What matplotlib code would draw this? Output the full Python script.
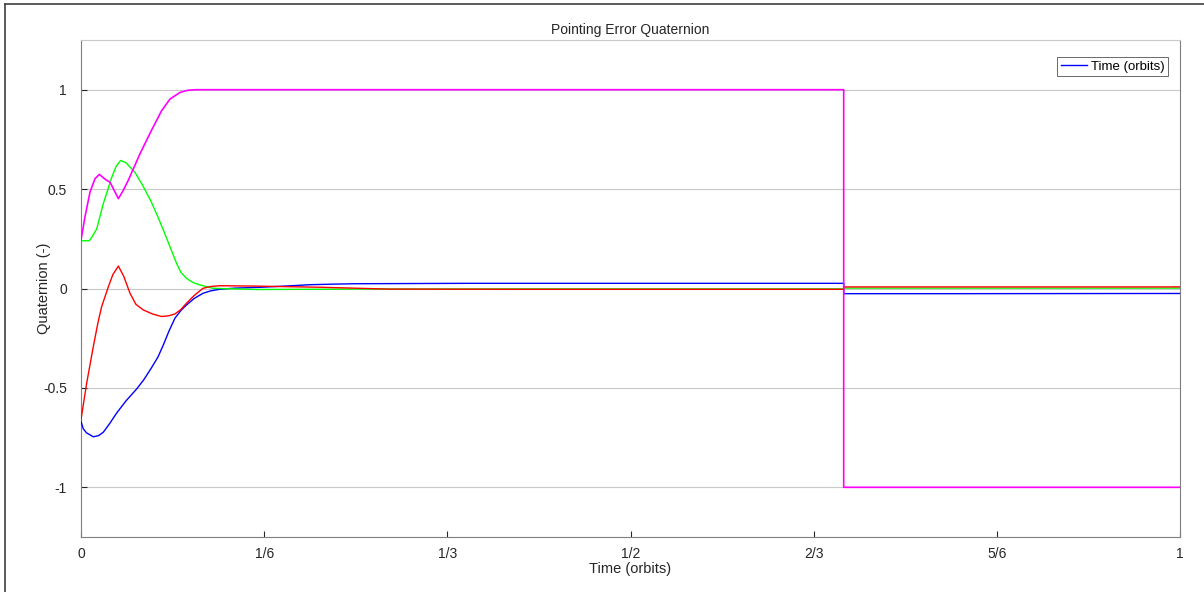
import numpy as np
import matplotlib
matplotlib.use("Agg")
import matplotlib.pyplot as plt
from matplotlib.lines import Line2D

plt.rcParams["font.family"] = ["Liberation Sans", "DejaVu Sans"]

# ---- data (time in orbits) ----
T_STEP = 0.694

q1_t = [0.0, 0.002, 0.005, 0.0112, 0.016, 0.0203, 0.026, 0.0325, 0.041, 0.0507, 0.057,
        0.064, 0.07, 0.075, 0.08, 0.0855, 0.091, 0.096, 0.103, 0.111, 0.118, 0.126,
        0.14, 0.163, 0.185, 0.208, 0.23, 0.25, 0.35, 0.5, T_STEP, T_STEP, 0.8, 1.0]
q1_v = [-0.668, -0.705, -0.726, -0.746, -0.74, -0.723, -0.68, -0.626, -0.565, -0.505, -0.46,
        -0.40, -0.345, -0.283, -0.215, -0.149, -0.11, -0.083, -0.05, -0.024, -0.012, -0.004,
        0.002, 0.006, 0.012, 0.019, 0.022, 0.024, 0.026, 0.026, 0.026, -0.026, -0.026, -0.025]

q2_t = [0.0, 0.0076, 0.0097, 0.0143, 0.0203, 0.028, 0.032, 0.036, 0.041, 0.049, 0.056,
        0.064, 0.07, 0.075, 0.081, 0.087, 0.091, 0.096, 0.102, 0.108, 0.12, 0.16, 0.25,
        0.4, T_STEP, T_STEP, 1.0]
q2_v = [0.24, 0.24, 0.257, 0.30, 0.427, 0.56, 0.615, 0.644, 0.632, 0.585, 0.52,
        0.435, 0.36, 0.293, 0.21, 0.126, 0.08, 0.051, 0.03, 0.018, 0.001, -0.005, -0.003,
        -0.002, -0.002, 0.002, 0.002]

q3_t = [0.0, 0.0052, 0.0112, 0.0155, 0.0188, 0.0249, 0.029, 0.034, 0.039, 0.0446, 0.05,
        0.0567, 0.065, 0.0734, 0.08, 0.0855, 0.091, 0.096, 0.103, 0.111, 0.118, 0.126,
        0.16, 0.22, 0.28, 0.4, T_STEP, T_STEP, 1.0]
q3_v = [-0.659, -0.475, -0.292, -0.17, -0.091, 0.009, 0.07, 0.113, 0.06, -0.024, -0.08,
        -0.108, -0.128, -0.141, -0.137, -0.128, -0.105, -0.074, -0.035, 0.001, 0.01, 0.014,
        0.012, 0.006, -0.003, -0.004, -0.004, 0.008, 0.008]

q4_t = [0.0, 0.0036, 0.0082, 0.0127, 0.0167, 0.0203, 0.0234, 0.0264, 0.0294, 0.034,
        0.0385, 0.043, 0.0537, 0.064, 0.0734, 0.081, 0.090, 0.097, 0.105, T_STEP, T_STEP, 1.0]
q4_v = [0.243, 0.36, 0.485, 0.552, 0.574, 0.557, 0.544, 0.535, 0.502, 0.452,
        0.494, 0.544, 0.678, 0.794, 0.895, 0.953, 0.986, 0.997, 1.0, 1.0, -1.0, -1.0]

x_ticks = [0, 1/6, 1/3, 1/2, 2/3, 5/6, 1]
x_labels = ["0", "1/6", "1/3", "1/2", "2/3", "5/6", "1"]
y_ticks = [-1, -0.5, 0, 0.5, 1]
y_labels = ["-1", "-0.5", "0", "0.5", "1"]

fig = plt.figure(figsize=(12.04, 5.92), dpi=100)
fig.patch.set_facecolor("white")
ax = fig.add_axes([81/1204, 55/592, 1099/1204, 497/592])

ax.plot(q1_t, q1_v, color="#0000ff", lw=1.0, label="Time (orbits)", zorder=3)
ax.plot(q2_t, q2_v, color="#00ff00", lw=1.0, zorder=3)
ax.plot(q3_t, q3_v, color="#ff0000", lw=1.0, zorder=3)
ax.plot(q4_t, q4_v, color="#ff00ff", lw=1.2, zorder=4)

ax.set_xlim(0, 1)
ax.set_ylim(-1.25, 1.25)
ax.set_xticks(x_ticks)
ax.set_xticklabels(x_labels)
ax.set_yticks(y_ticks)
ax.set_yticklabels(y_labels)
ax.tick_params(direction="in", length=4, width=0.8, colors="#262626",
               labelsize=10, top=False, right=False)
ax.tick_params(axis="x", pad=7)
ax.tick_params(axis="y", pad=10)
ax.yaxis.grid(True, color="#c8c8c8", lw=0.8)
ax.set_axisbelow(True)

for side in ["left", "bottom", "right"]:
    ax.spines[side].set_color("#7f7f7f")
    ax.spines[side].set_linewidth(0.8)
ax.spines["top"].set_color("#c8c8c8")

ax.set_title("Pointing Error Quaternion", fontsize=10, color="#262626", pad=4)
ax.set_xlabel("Time (orbits)", fontsize=10.5, color="#262626", labelpad=1)
ax.set_ylabel("Quaternion (-)", fontsize=10.5, color="#262626")
ax.yaxis.set_label_coords(-0.027, 0.5)

leg = ax.legend(loc="upper right", bbox_to_anchor=(0.989, 0.965), fontsize=9.5,
                frameon=True, fancybox=False, handlelength=2.0, borderpad=0.25,
                handletextpad=0.3, borderaxespad=0)
leg.get_frame().set_edgecolor("#262626")
leg.get_frame().set_linewidth(0.6)

# figure border (left and top edges visible in the reference)
fig.add_artist(Line2D([4.5/1204, 4.5/1204], [0, 1 - 3.5/592], color="#404040", lw=1.2))
fig.add_artist(Line2D([4.5/1204, 1], [1 - 3.5/592, 1 - 3.5/592], color="#404040", lw=1.2))

fig.savefig("out.png", dpi=100, facecolor="white")
